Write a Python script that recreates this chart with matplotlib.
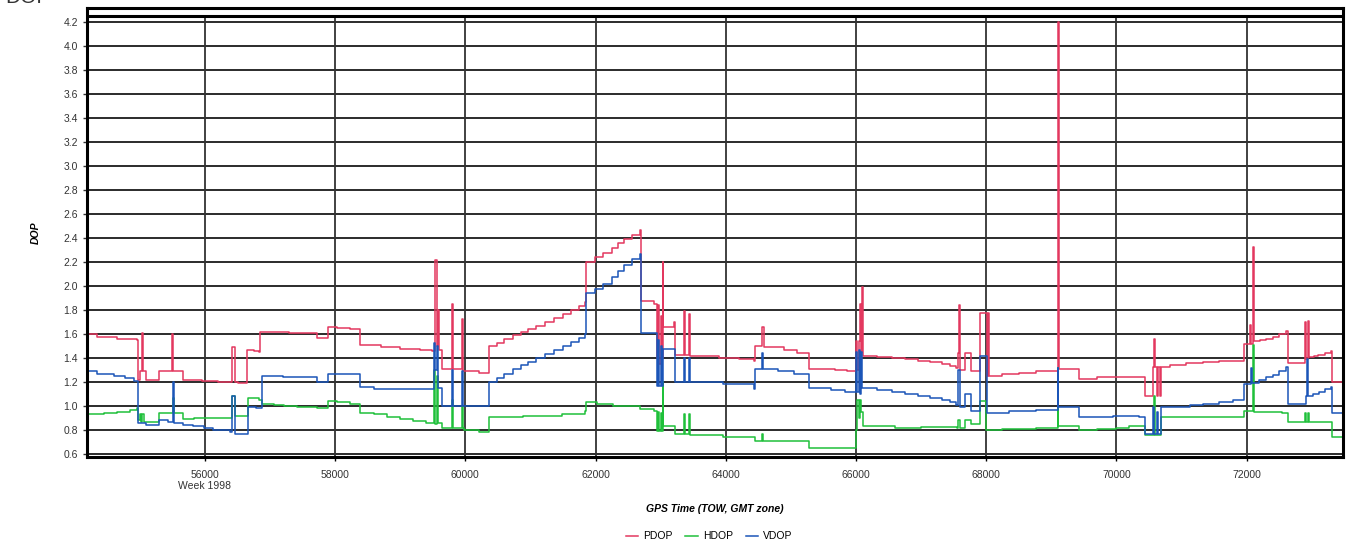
import matplotlib.pyplot as plt
from matplotlib.ticker import FixedLocator, FormatStrFormatter

plt.rcParams['font.family'] = ['Liberation Sans', 'DejaVu Sans']

# GPS time of week (s) and DOP values (step changes)
pdop_t = [54190, 54350, 54650, 54960, 54977, 55000, 55030, 55045, 55090, 55294,
          55500, 55515, 55668, 55959, 56200, 56419, 56471, 56506, 56650, 56752,
          56839, 56854, 57300, 57724, 57893, 58031, 58235, 58389, 58700, 59000,
          59300, 59488, 59540, 59560, 59580, 59600, 59650, 59789, 59810, 59949,
          59970, 60216, 60360, 60480, 60600, 60730, 60850, 60970, 61090, 61220,
          61360, 61500, 61620, 61740, 61840, 61861, 61990, 62120, 62250, 62340,
          62430, 62560, 62680, 62694, 62900, 62941, 62960, 62980, 63000, 63020,
          63033, 63043, 63200, 63223, 63362, 63380, 63429, 63445, 63900, 64200,
          64432, 64457, 64560, 64580, 64900, 65100, 65280, 65676, 65856, 66000,
          66020, 66040, 66062, 66075, 66098, 66110, 66330, 66550, 66750, 66960,
          67140, 67320, 67440, 67540, 67560, 67578, 67590, 67604, 67681, 67774,
          67912, 68015, 68030, 68050, 68250, 68500, 68760, 69095, 69107, 69120,
          69429, 69694, 70434, 70561, 70577, 70590, 70620, 70640, 70663, 70689,
          70820, 71070, 71330, 71580, 71964, 72051, 72060, 72092, 72105, 72200,
          72300, 72400, 72500, 72600, 72628, 72898, 72910, 72949, 72960, 73030,
          73100, 73200, 73300, 73316, 73490]
pdop_v = [1.60, 1.58, 1.56, 1.55, 1.22, 1.29, 1.61, 1.29, 1.22, 1.29,
          1.60, 1.29, 1.22, 1.21, 1.20, 1.49, 1.20, 1.19, 1.47, 1.46,
          1.45, 1.62, 1.61, 1.57, 1.66, 1.65, 1.64, 1.51, 1.49, 1.48,
          1.47, 1.46, 2.22, 1.50, 1.80, 1.47, 1.31, 1.85, 1.31, 1.73,
          1.29, 1.28, 1.50, 1.53, 1.56, 1.59, 1.62, 1.645, 1.67, 1.70,
          1.735, 1.77, 1.80, 1.835, 1.865, 2.20, 2.24, 2.28, 2.32, 2.36,
          2.39, 2.43, 2.47, 1.88, 1.85, 1.40, 1.84, 1.35, 1.75, 1.40,
          2.20, 1.66, 1.70, 1.43, 1.79, 1.43, 1.77, 1.42, 1.40, 1.39,
          1.38, 1.50, 1.66, 1.49, 1.47, 1.44, 1.31, 1.30, 1.29, 1.54,
          1.30, 1.54, 1.85, 1.45, 1.99, 1.42, 1.41, 1.40, 1.39, 1.38,
          1.365, 1.35, 1.335, 1.32, 1.44, 1.84, 1.44, 1.30, 1.44, 1.29,
          1.78, 1.25, 1.78, 1.25, 1.27, 1.28, 1.29, 1.31, 4.20, 1.31,
          1.225, 1.24, 1.08, 1.33, 1.56, 1.33, 1.08, 1.33, 1.08, 1.33,
          1.345, 1.36, 1.37, 1.375, 1.52, 1.68, 1.52, 2.33, 1.54, 1.55,
          1.56, 1.58, 1.60, 1.625, 1.36, 1.70, 1.39, 1.71, 1.41, 1.42,
          1.43, 1.445, 1.46, 1.20, 1.22]

hdop_t = [54190, 54450, 54650, 54850, 54960, 54977, 55000, 55020, 55040, 55060,
          55090, 55294, 55504, 55520, 55668, 55840, 56419, 56471, 56666, 56839,
          56871, 57060, 57210, 57420, 57724, 57893, 58031, 58235, 58389, 58600,
          58800, 59000, 59200, 59400, 59520, 59540, 59560, 59580, 59650, 59789,
          59805, 59949, 59965, 59985, 60216, 60360, 60880, 61490, 61840, 61861,
          62020, 62270, 62680, 62900, 62941, 62960, 62980, 63000, 63020, 63033,
          63043, 63223, 63362, 63380, 63429, 63445, 63960, 64457, 64560, 64575,
          65280, 66000, 66020, 66040, 66060, 66080, 66113, 66600, 67000, 67553,
          67560, 67590, 67681, 67774, 67912, 68000, 68250, 68760, 69095, 69110,
          69429, 69700, 70000, 70200, 70434, 70577, 70590, 70689, 71964, 72092,
          72105, 72550, 72628, 72898, 72910, 72949, 72960, 73265, 73316, 73490]
hdop_v = [0.93, 0.94, 0.95, 0.97, 0.98, 0.88, 0.93, 0.87, 0.93, 0.87,
          0.87, 0.945, 1.07, 0.945, 0.89, 0.90, 1.08, 0.915, 1.07, 1.05,
          1.02, 1.01, 1.00, 0.99, 0.98, 1.045, 1.035, 1.02, 0.945, 0.93,
          0.91, 0.89, 0.875, 0.86, 1.30, 0.85, 1.25, 0.86, 0.815, 1.05,
          0.815, 1.00, 0.815, 0.80, 0.78, 0.91, 0.92, 0.935, 0.955, 1.03,
          1.02, 1.00, 0.975, 0.955, 0.79, 0.95, 0.79, 0.94, 0.79, 1.20,
          0.835, 0.765, 0.93, 0.765, 0.93, 0.76, 0.74, 0.705, 0.77, 0.705,
          0.65, 0.80, 1.05, 0.90, 1.05, 0.95, 0.83, 0.82, 0.825, 0.82,
          0.88, 0.82, 0.88, 0.85, 1.04, 0.80, 0.81, 0.82, 1.32, 0.83,
          0.80, 0.81, 0.82, 0.83, 0.755, 1.08, 0.755, 0.905, 0.96, 1.51,
          0.95, 0.94, 0.87, 0.94, 0.87, 0.94, 0.87, 0.865, 0.74, 0.74]

vdop_t = [54190, 54350, 54600, 54770, 54920, 54977, 55100, 55294, 55430, 55504,
          55520, 55668, 55820, 55980, 56130, 56390, 56419, 56471, 56666, 56780,
          56871, 57200, 57400, 57724, 57893, 58389, 58600, 59520, 59540, 59560,
          59580, 59650, 59789, 59805, 59949, 59965, 60360, 60480, 60600, 60730,
          60850, 60970, 61090, 61220, 61360, 61500, 61620, 61740, 61840, 61861,
          61990, 62120, 62250, 62340, 62430, 62560, 62680, 62694, 62941, 62960,
          62980, 63000, 63020, 63043, 63223, 63362, 63380, 63429, 63445, 63960,
          64432, 64457, 64560, 64575, 64800, 65050, 65280, 65620, 65830, 66000,
          66020, 66040, 66060, 66080, 66100, 66330, 66550, 66750, 66960, 67140,
          67320, 67440, 67540, 67560, 67590, 67604, 67681, 67774, 67912, 68015,
          68350, 68760, 69095, 69110, 69429, 69950, 70200, 70350, 70434, 70561,
          70580, 70620, 70640, 70689, 70980, 71130, 71330, 71580, 71790, 71964,
          72070, 72085, 72194, 72300, 72400, 72500, 72600, 72628, 72908, 72920,
          72935, 73020, 73110, 73200, 73300, 73316, 73490]
vdop_v = [1.29, 1.27, 1.25, 1.23, 1.21, 0.86, 0.845, 0.88, 0.87, 1.20,
          0.86, 0.845, 0.83, 0.82, 0.80, 0.78, 1.08, 0.77, 0.99, 0.985,
          1.25, 1.24, 1.245, 1.20, 1.27, 1.155, 1.145, 1.53, 1.30, 1.50,
          1.15, 1.00, 1.30, 1.00, 1.29, 1.00, 1.20, 1.235, 1.27, 1.31,
          1.34, 1.37, 1.40, 1.435, 1.47, 1.50, 1.535, 1.57, 1.60, 1.94,
          1.98, 2.02, 2.08, 2.13, 2.18, 2.23, 2.27, 1.61, 1.17, 1.55,
          1.17, 1.50, 1.17, 1.475, 1.20, 1.40, 1.20, 1.40, 1.20, 1.18,
          1.145, 1.31, 1.44, 1.31, 1.29, 1.27, 1.15, 1.135, 1.12, 1.45,
          1.12, 1.47, 1.10, 1.45, 1.15, 1.135, 1.12, 1.10, 1.085, 1.07,
          1.05, 1.03, 1.01, 1.30, 1.00, 0.995, 1.10, 0.955, 1.42, 0.94,
          0.955, 0.97, 1.32, 0.99, 0.905, 0.92, 0.92, 0.905, 0.77, 0.99,
          0.77, 0.95, 0.77, 0.99, 0.995, 1.01, 1.02, 1.035, 1.05, 1.185,
          1.32, 1.19, 1.22, 1.24, 1.26, 1.295, 1.33, 1.02, 1.08, 1.39,
          1.08, 1.10, 1.12, 1.14, 1.16, 0.94, 0.98]

x_ticks = list(range(56000, 72001, 2000))
x_labels = ['56000\nWeek 1998'] + [str(t) for t in x_ticks[1:]]
y_ticks = [round(0.6 + 0.2 * i, 1) for i in range(19)]

fig = plt.figure(figsize=(13.46, 5.48), dpi=100)
ax = fig.add_axes([0.0646, 0.166, 0.9332, 0.8194])

ax.plot(pdop_t, pdop_v, drawstyle='steps-post', color='#E3385F', lw=1.1, label='PDOP')
ax.plot(hdop_t, hdop_v, drawstyle='steps-post', color='#1FC03A', lw=1.1, label='HDOP')
ax.plot(vdop_t, vdop_v, drawstyle='steps-post', color='#1B55B8', lw=1.1, label='VDOP')

ax.set_xlim(54190, 73480)
ax.set_ylim(0.575, 4.32)

# grid
for y in y_ticks:
    ax.axhline(y, color='#1a1a1a', lw=1.3, zorder=0)
ax.vlines(x_ticks, 0.575, 4.255, color='#333333', lw=1.3, zorder=0)
ax.axhline(4.255, color='black', lw=2.2, zorder=0)

for s in ax.spines.values():
    s.set_linewidth(2.2)

ax.xaxis.set_major_locator(FixedLocator(x_ticks))
ax.set_xticklabels(x_labels, fontsize=7.5, color='#333333')
ax.yaxis.set_major_locator(FixedLocator(y_ticks))
ax.yaxis.set_major_formatter(FormatStrFormatter('%.1f'))
ax.tick_params(axis='y', labelsize=7.5, length=3, width=1, colors='#333333')
ax.tick_params(axis='x', length=3, width=1, pad=6)

ax.set_ylabel('DOP', fontsize=7.5, fontweight='bold', style='italic', labelpad=16)
ax.set_xlabel('GPS Time (TOW, GMT zone)', fontsize=7.5, fontweight='bold',
              style='italic', labelpad=9)

fig.legend(loc='lower center', bbox_to_anchor=(0.527, -0.005), ncol=3, frameon=False,
           fontsize=7.5, handlelength=1.2, columnspacing=1.2, handletextpad=0.5)

fig.text(0.004, 1.004, 'DOP', fontsize=15, va='center', color='#333333')

fig.savefig('out.png', dpi=100)
